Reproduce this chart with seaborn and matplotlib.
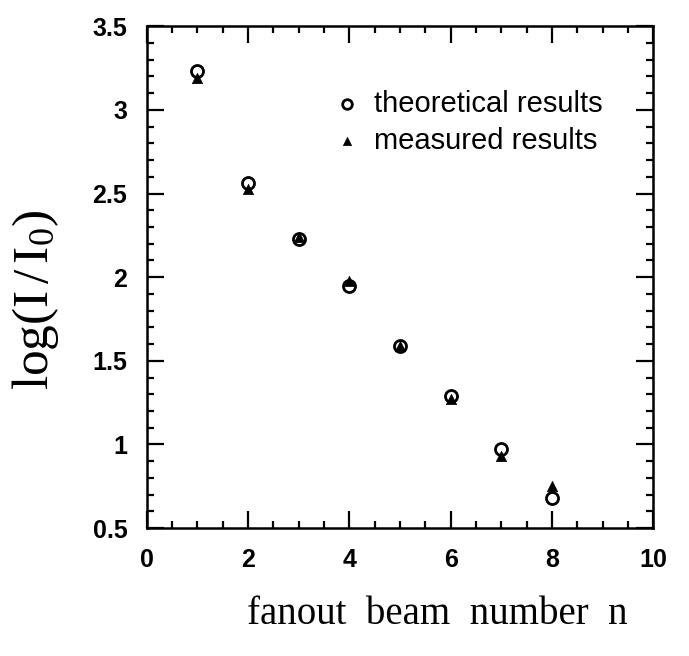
import numpy as np
import pandas as pd
import seaborn as sns
import matplotlib.pyplot as plt
from matplotlib.ticker import MultipleLocator

# === data ===
n_beam = [1, 2, 3, 4, 5, 6, 7, 8]
theoretical = [3.23, 2.56, 2.23, 1.95, 1.59, 1.29, 0.97, 0.68]
measured = [3.19, 2.53, 2.24, 1.98, 1.59, 1.27, 0.93, 0.75]

x_ticks = [0, 2, 4, 6, 8, 10]
x_tick_labels = ["0", "2", "4", "6", "8", "10"]
y_ticks = [0.5, 1, 1.5, 2, 2.5, 3, 3.5]
y_tick_labels = ["0.5", "1", "1.5", "2", "2.5", "3", "3.5"]

df_th = pd.DataFrame({"n": n_beam, "val": theoretical})
df_me = pd.DataFrame({"n": n_beam, "val": measured})

sns.set_theme(style="ticks")
plt.rcParams["font.family"] = ["Liberation Sans", "DejaVu Sans"]
plt.rcParams["mathtext.fontset"] = "custom"
plt.rcParams["mathtext.rm"] = "Liberation Serif"
plt.rcParams["mathtext.it"] = "Liberation Serif:italic"
plt.rcParams["text.color"] = "black"
plt.rcParams["axes.labelcolor"] = "black"

fig = plt.figure(figsize=(6.89, 6.56), dpi=100)
ax = fig.add_axes([0.213, 0.195, 0.735, 0.765])

sns.scatterplot(data=df_th, x="n", y="val", ax=ax, marker="o", s=75,
                facecolor="white", edgecolor="black", linewidth=2,
                label="theoretical results", zorder=3)
sns.scatterplot(data=df_me, x="n", y="val", ax=ax, marker="^", s=55,
                color="black", edgecolor="black", linewidth=0.5,
                label="measured results", zorder=4)

ax.set_xlim(0, 10)
ax.set_ylim(0.5, 3.5)
ax.set_xticks(x_ticks)
ax.set_xticklabels(x_tick_labels, fontsize=18, fontweight="bold")
ax.set_yticks(y_ticks)
ax.set_yticklabels(y_tick_labels, fontsize=18, fontweight="bold")
ax.xaxis.set_minor_locator(MultipleLocator(0.5))
ax.yaxis.set_minor_locator(MultipleLocator(0.1))

ax.tick_params(which="both", direction="in", top=True, right=True,
               width=1.6, colors="black")
ax.tick_params(which="major", length=12, pad=14)
ax.tick_params(which="minor", length=5)
for sp in ax.spines.values():
    sp.set_linewidth(1.8)
    sp.set_color("black")

ax.set_xlabel("fanout  beam  number  n", family="Liberation Serif",
              fontsize=28)
ax.xaxis.set_label_coords(0.573, -0.135)
ax.set_ylabel(r"$\mathrm{log(I\,/\,I_0)}$", fontsize=37)
ax.yaxis.set_label_coords(-0.17, 0.455)

ax.legend(loc="upper left", bbox_to_anchor=(0.31, 0.925), frameon=False,
          fontsize=21, handletextpad=0.3, labelspacing=0.3,
          markerscale=0.8, handlelength=1.2)

fig.savefig("out.png", dpi=100, facecolor="white")
